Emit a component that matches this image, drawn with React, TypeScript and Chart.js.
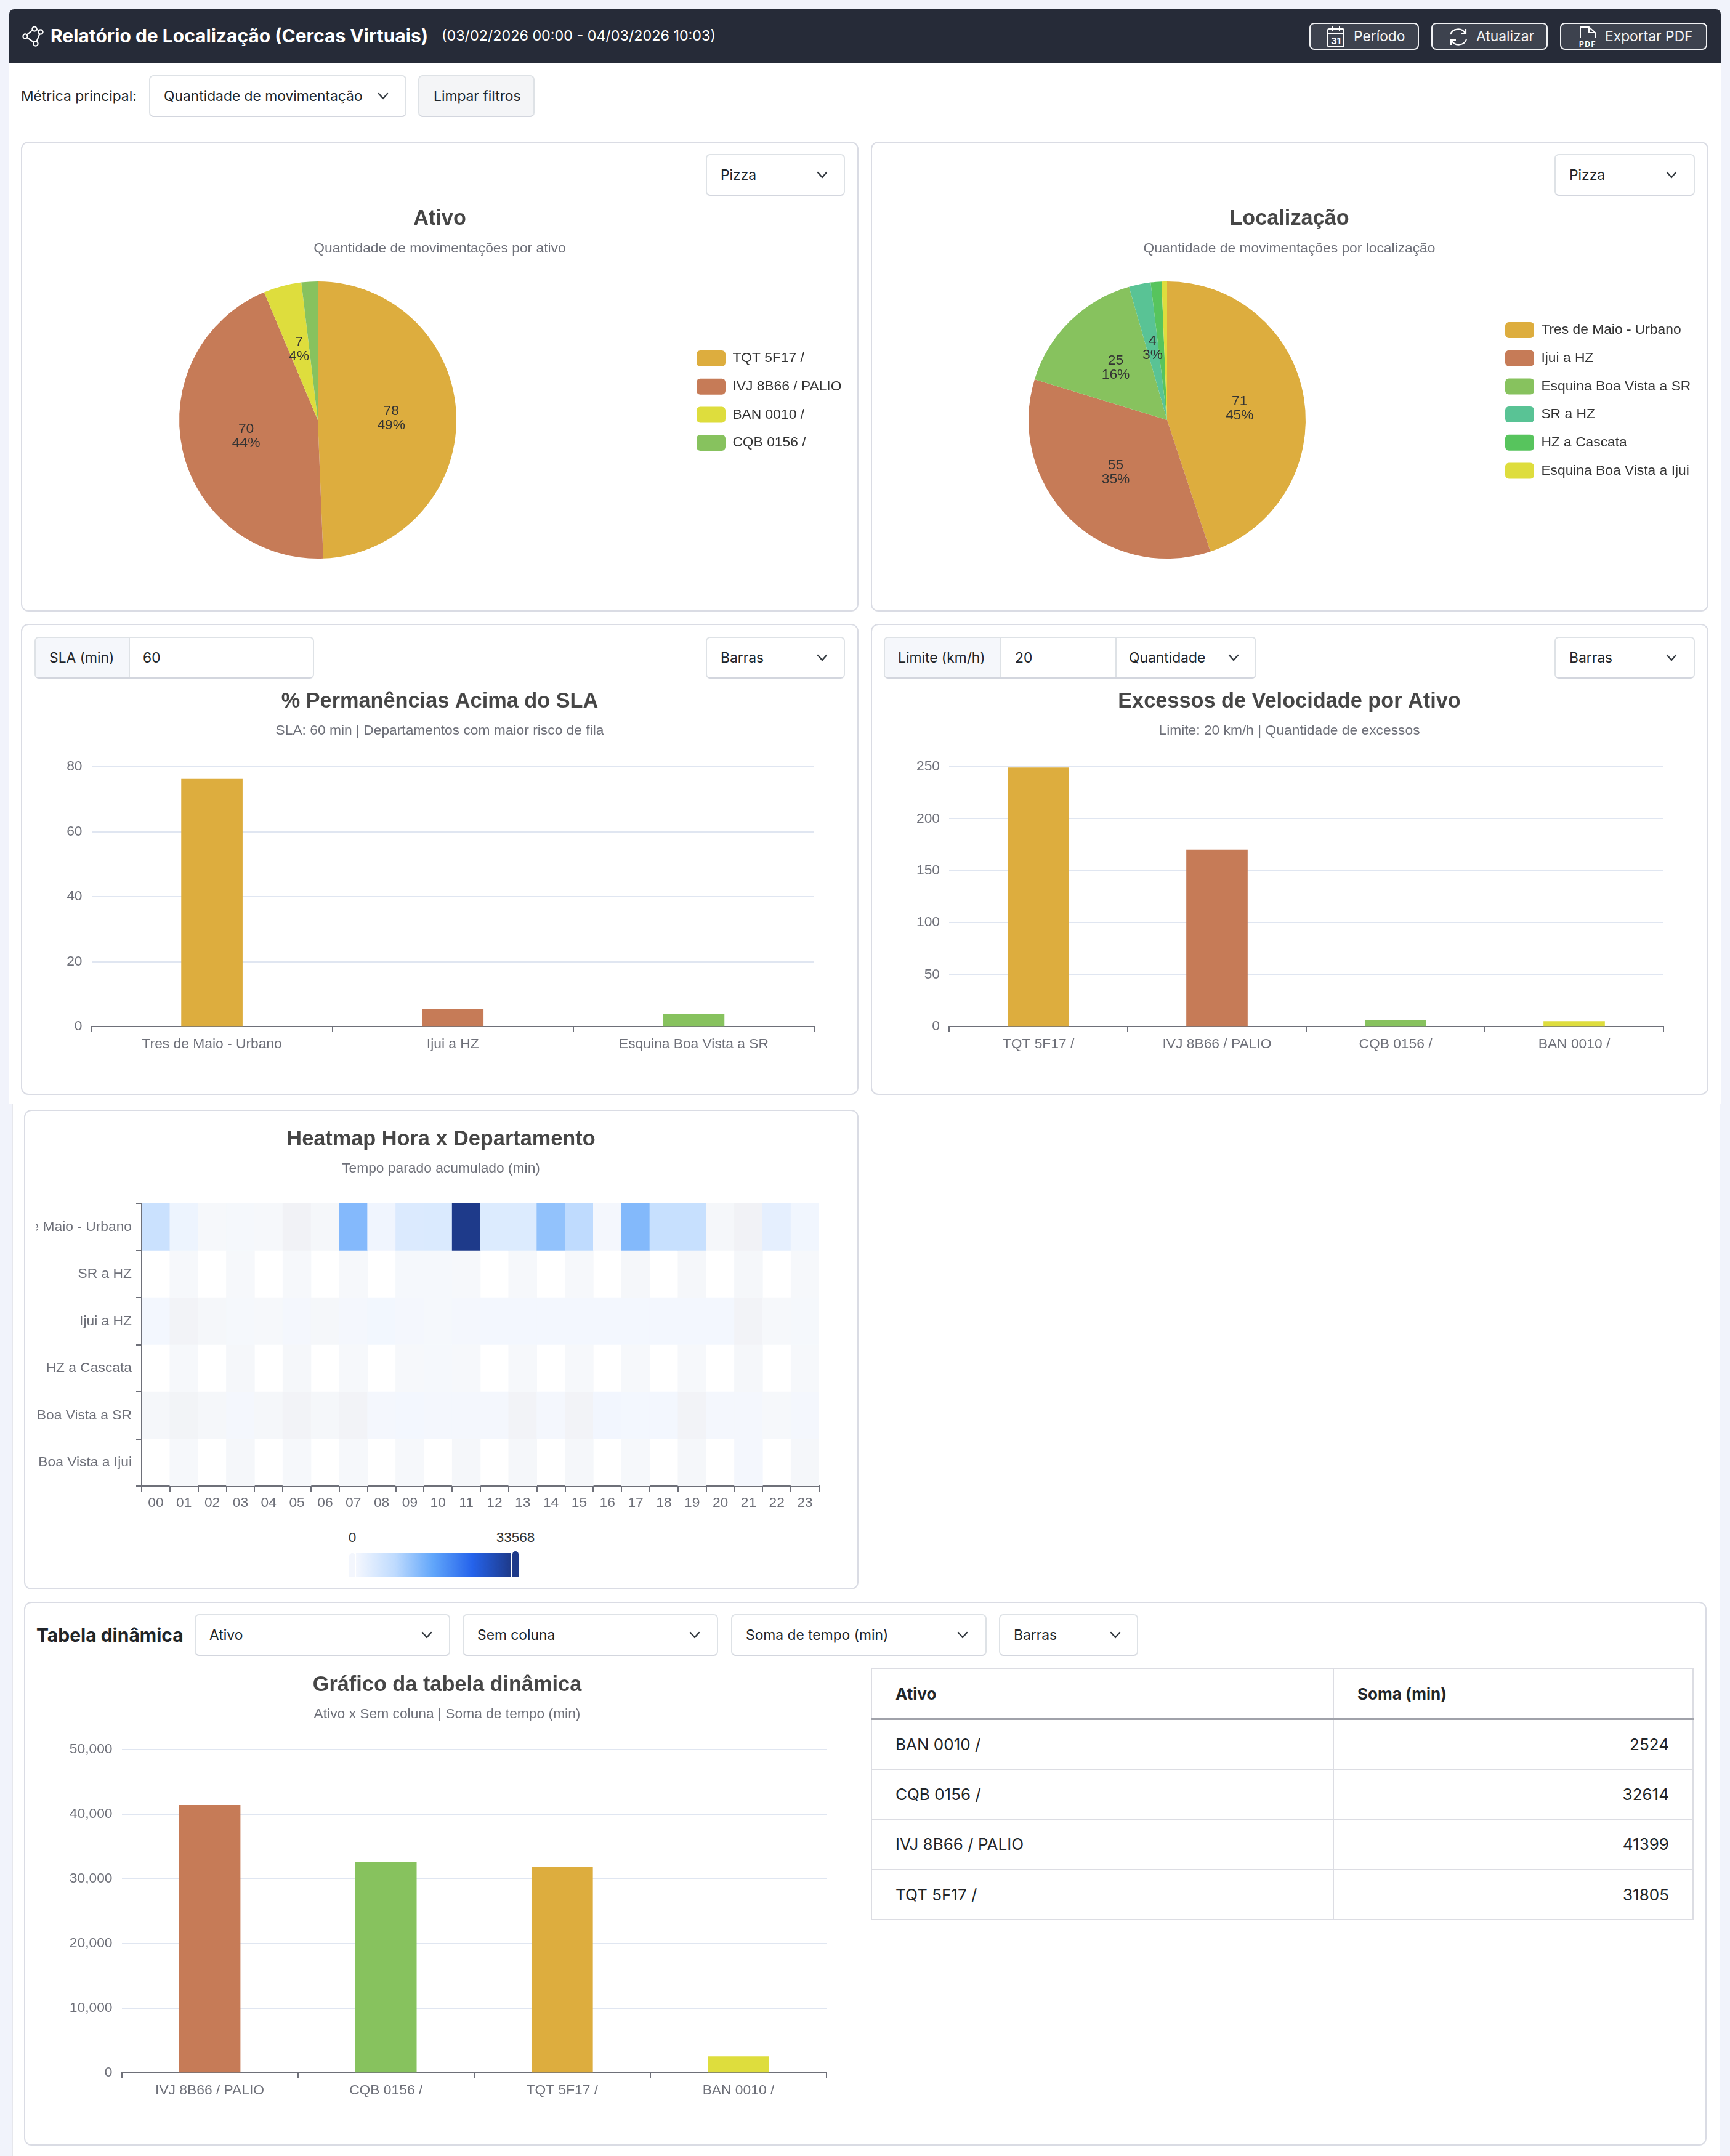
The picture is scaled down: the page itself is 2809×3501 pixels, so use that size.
import React, { useEffect, useRef } from 'react';
import { Chart, registerables } from 'chart.js';
import type { FC, CSSProperties, ReactNode } from 'react';

Chart.register(...registerables);

const GOLD = '#DDAD3E';
const TERRACOTTA = '#C67B57';
const GREEN = '#87C25E';
const YELLOW = '#DEDD3D';
const TEAL = '#59C395';
const LEAF = '#57C45D';

const assetLabels = ['TQT 5F17 /', 'IVJ 8B66 / PALIO', 'BAN 0010 /', 'CQB 0156 /'];
const assetMoves = [78, 70, 7, 3];
const assetColors = [GOLD, TERRACOTTA, YELLOW, GREEN];

const placeLabels = ['Tres de Maio - Urbano', 'Ijui a HZ', 'Esquina Boa Vista a SR', 'SR a HZ', 'HZ a Cascata', 'Esquina Boa Vista a Ijui'];
const placeMoves = [71, 55, 25, 4, 2, 1];
const placeColors = [GOLD, TERRACOTTA, GREEN, TEAL, LEAF, YELLOW];

const slaLabels = ['Tres de Maio - Urbano', 'Ijui a HZ', 'Esquina Boa Vista a SR'];
const slaValues = [76.2, 5.4, 3.9];
const slaColors = [GOLD, TERRACOTTA, GREEN];

const speedLabels = ['TQT 5F17 /', 'IVJ 8B66 / PALIO', 'CQB 0156 /', 'BAN 0010 /'];
const speedValues = [249, 170, 6, 5];
const speedColors = [GOLD, TERRACOTTA, GREEN, YELLOW];

const pivotLabels = ['IVJ 8B66 / PALIO', 'CQB 0156 /', 'TQT 5F17 /', 'BAN 0010 /'];
const pivotValues = [41399, 32614, 31805, 2524];
const pivotColors = [TERRACOTTA, GREEN, GOLD, YELLOW];

const pivotRows = [
  ['BAN 0010 /', '2524'],
  ['CQB 0156 /', '32614'],
  ['IVJ 8B66 / PALIO', '41399'],
  ['TQT 5F17 /', '31805'],
];

const hours = ['00', '01', '02', '03', '04', '05', '06', '07', '08', '09', '10', '11', '12', '13', '14', '15', '16', '17', '18', '19', '20', '21', '22', '23'];
const departments = ['Tres de Maio - Urbano', 'SR a HZ', 'Ijui a HZ', 'HZ a Cascata', 'Esquina Boa Vista a SR', 'Esquina Boa Vista a Ijui'];
const heatMax = 33568;

// minutes per hour, null = no cell drawn
const heatTresDeMaio = [6800, 1900, 500, 700, 500, 100, 400, 13600, 1500, 4400, 4500, 33568, 4300, 4300, 12350, 8400, 900, 13700, 7200, 7200, 400, 100, 3000, 1300];
const heatSrHz = [null, 500, null, 500, null, 500, null, 500, null, 700, 700, 500, null, 500, null, 500, null, 450, null, 450, null, 400, null, 500];
const heatIjuiHz = [1000, 150, 400, 700, 500, 900, 400, 900, 1100, 900, 600, 900, 950, 950, 950, 950, 950, 950, 950, 950, 950, 150, 500, 700];
const heatHzCascata = [null, 500, null, 450, null, 450, null, 500, null, 500, 700, 500, null, 500, null, 500, null, 500, null, 500, null, 400, null, 500];
const heatBoaVistaSr = [450, 200, 450, 800, 450, 150, 400, 130, 900, 1000, 900, 900, 900, 150, 900, 150, 1200, 950, 950, 150, 900, 850, 500, 800];
const heatBoaVistaIjui = [null, 500, null, 450, null, 500, null, 500, null, 500, null, 450, null, 450, null, 450, null, 500, null, 450, null, 800, null, 450];
const heatRows = [heatTresDeMaio, heatSrHz, heatIjuiHz, heatHzCascata, heatBoaVistaSr, heatBoaVistaIjui];

const heatStops: [number, number[]][] = [
  [0, [240, 241, 245]],
  [0.015, [246, 248, 251]],
  [0.03, [243, 247, 254]],
  [0.25, [191, 219, 254]],
  [0.5, [96, 165, 250]],
  [0.75, [37, 99, 235]],
  [1, [30, 58, 138]],
];

const heatColor = (value: number | null) => {
  if (value === null) return 'rgba(0,0,0,0)';
  const t = value / heatMax;
  for (let i = 1; i < heatStops.length; i += 1) {
    const [t0, c0] = heatStops[i - 1];
    const [t1, c1] = heatStops[i];
    if (t <= t1) {
      const k = (t - t0) / (t1 - t0);
      return `rgb(${c0.map((c, j) => Math.round(c + (c1[j] - c) * k)).join(',')})`;
    }
  }
  return 'rgb(30,58,138)';
};

const CHART_FONT = '"Liberation Sans", Arial, sans-serif';
const UI_FONT = 'Inter, "Noto Sans", sans-serif';
const AXIS_COLOR = '#6E7079';
const GRID_COLOR = '#E0E6F1';
const TITLE_SIZE = 34.3;
const TEXT_SIZE = 22.8;

Chart.defaults.font.family = CHART_FONT;
Chart.defaults.font.size = TEXT_SIZE;

// title and subtitle are placed by their centre line, relative to the canvas top
const headings = (title: string, subtitle: string, canvasTop: number, titleY: number, subtitleY: number, plotTop: number) => {
  const titleH = TITLE_SIZE * 1.2;
  const subH = TEXT_SIZE * 1.2;
  return {
    title: {
      display: true,
      text: title,
      color: '#464646',
      font: { size: TITLE_SIZE, weight: 'bold' as const },
      padding: { top: titleY - titleH / 2 - canvasTop, bottom: 0 },
    },
    subtitle: {
      display: true,
      text: subtitle,
      color: AXIS_COLOR,
      font: { size: TEXT_SIZE },
      padding: { top: subtitleY - subH / 2 - (titleY + titleH / 2), bottom: plotTop - (subtitleY + subH / 2) },
    },
    tooltip: { enabled: false },
  };
};

// keeps the pie and its legend where the card wants them, and writes the slice labels
const piePlugin = {
  id: 'pieFrame',
  afterLayout(chart: any, _args: any, opts: any) {
    const r = opts.radius;
    Object.assign(chart.chartArea, {
      left: opts.cx - r, right: opts.cx + r, top: opts.cy - r, bottom: opts.cy + r, width: r * 2, height: r * 2,
    });
    const pad = chart.options.plugins.legend.labels.padding;
    const { legend } = chart;
    legend.left = opts.legendX - pad;
    legend.right = chart.width;
    legend.top = opts.legendY - pad;
    legend.bottom = chart.height;
  },
  afterDatasetsDraw(chart: any, _args: any, opts: any) {
    const { ctx } = chart;
    const values: number[] = chart.data.datasets[0].data;
    const total = values.reduce((a, b) => a + b, 0);
    ctx.save();
    ctx.font = `${TEXT_SIZE}px ${CHART_FONT}`;
    ctx.fillStyle = '#333333';
    ctx.textAlign = 'center';
    ctx.textBaseline = 'middle';
    chart.getDatasetMeta(0).data.forEach((arc: any, i: number) => {
      if (values[i] < opts.minLabel) return;
      const mid = (arc.startAngle + arc.endAngle) / 2;
      const d = arc.outerRadius * 0.53;
      const x = arc.x + Math.cos(mid) * d;
      const y = arc.y + Math.sin(mid) * d;
      ctx.fillText(String(values[i]), x, y - 11.5);
      ctx.fillText(`${Math.round((values[i] / total) * 100)}%`, x, y + 11.5);
    });
    ctx.restore();
  },
};

const pieConfig = (title: string, subtitle: string, labels: string[], values: number[], colors: string[], frame: any): any => ({
  type: 'pie',
  data: { labels, datasets: [{ data: values, backgroundColor: colors, borderWidth: 0 }] },
  plugins: [piePlugin],
  options: {
    responsive: false,
    animation: false,
    plugins: {
      ...headings(title, subtitle, 320, 356, 403.5, 440),
      pieFrame: { ...frame, radius: 225, minLabel: 4 },
      legend: {
        position: 'right',
        align: 'start',
        labels: {
          boxWidth: 47,
          boxHeight: 26,
          padding: 19.7,
          color: '#333333',
          useBorderRadius: true,
          borderRadius: 6,
          font: { size: TEXT_SIZE },
        },
      },
    },
  },
});

interface BarSpec {
  title: string;
  subtitle: string;
  labels: string[];
  values: number[];
  colors: string[];
  max: number;
  step: number;
  canvas: { x: number; y: number; w: number };
  plot: { left: number; right: number; top: number; bottom: number };
  titleY: number;
  subtitleY: number;
  barWidth: number;
}

const barConfig = (s: BarSpec): any => {
  const side = s.canvas.x + s.canvas.w - s.plot.right;
  return {
    type: 'bar',
    data: {
      labels: s.labels,
      datasets: [{ data: s.values, backgroundColor: s.colors, barThickness: s.barWidth }],
    },
    options: {
      responsive: false,
      animation: false,
      locale: 'en-US',
      layout: { padding: { left: side, right: side, top: 0, bottom: 0 } },
      plugins: {
        ...headings(s.title, s.subtitle, s.canvas.y, s.titleY, s.subtitleY, s.plot.top),
        legend: { display: false },
      },
      scales: {
        x: {
          afterFit(scale: any) { scale.height = 50; },
          grid: { offset: true, drawOnChartArea: false, color: AXIS_COLOR, lineWidth: 2, tickLength: 9 },
          border: { color: AXIS_COLOR, width: 2 },
          ticks: { color: AXIS_COLOR, padding: 6, maxRotation: 0, font: { size: TEXT_SIZE } },
        },
        y: {
          min: 0,
          max: s.max,
          afterFit(scale: any) { scale.width = s.plot.left - s.canvas.x - side; },
          grid: { color: GRID_COLOR, lineWidth: 2, drawTicks: false },
          border: { display: false },
          ticks: { stepSize: s.step, color: AXIS_COLOR, padding: 15, font: { size: TEXT_SIZE } },
        },
      },
    },
  };
};

const heatConfig = (): any => ({
  type: 'bar',
  data: {
    labels: hours,
    datasets: heatRows.map((row, i) => ({
      label: departments[i],
      // every cell is one row tall, its colour carries the minutes
      data: row.map(() => 1),
      backgroundColor: row.map(heatColor),
      yAxisID: 'cells',
      barPercentage: 1,
      categoryPercentage: 1,
    })),
  },
  options: {
    responsive: false,
    animation: false,
    layout: { padding: { left: 43, right: 43, top: 0, bottom: 0 } },
    plugins: {
      ...headings('Heatmap Hora x Departamento', 'Tempo parado acumulado (min)', 1820, 1850.5, 1897.5, 1954),
      legend: { display: false },
    },
    scales: {
      x: {
        stacked: true,
        afterFit(scale: any) { scale.height = 50; },
        grid: { offset: true, drawOnChartArea: false, color: AXIS_COLOR, lineWidth: 2, tickLength: 9 },
        border: { color: AXIS_COLOR, width: 2 },
        ticks: { color: AXIS_COLOR, padding: 5, autoSkip: false, maxRotation: 0, font: { size: TEXT_SIZE } },
      },
      cells: { stacked: true, display: false, min: 0, max: departments.length, reverse: true },
      y: {
        type: 'category',
        labels: departments,
        offset: true,
        position: 'left',
        afterFit(scale: any) {
          scale.width = 128;
          // long names run off the canvas edge here, the scale's own clip would cut them earlier
          scale._computeLabelArea = () => ({
            top: 0, left: 0, bottom: scale.chart.height, right: scale.right,
          });
        },
        grid: { offset: true, drawOnChartArea: false, color: AXIS_COLOR, lineWidth: 2, tickLength: 9 },
        border: { color: AXIS_COLOR, width: 2 },
        ticks: { color: AXIS_COLOR, padding: 7, autoSkip: false, font: { size: TEXT_SIZE } },
      },
    },
  },
});

const ChartCanvas: FC<{ x: number; y: number; w: number; h: number; make: () => any }> = ({
  x, y, w, h, make,
}) => {
  const canvasRef = useRef<HTMLCanvasElement>(null);

  useEffect(() => {
    const chart = new Chart(canvasRef.current as HTMLCanvasElement, make());
    return () => {
      chart.destroy();
    };
  }, []);

  return (
    <canvas
      ref={canvasRef}
      width={w}
      height={h}
      style={{
        position: 'absolute', left: x, top: y, width: w, height: h,
      }}
    />
  );
};

const Box: FC<{ x: number; y: number; w: number; h: number; style?: CSSProperties; children?: ReactNode }> = ({
  x, y, w, h, style, children,
}) => (
  <div
    style={{
      position: 'absolute', left: x, top: y, width: w, height: h, boxSizing: 'border-box', ...style,
    }}
  >
    {children}
  </div>
);

const Label: FC<{ x: number; cy: number; size?: number; weight?: number; color?: string; children: ReactNode }> = ({
  x, cy, size = TEXT_SIZE, weight = 400, color = '#212529', children,
}) => (
  <div
    style={{
      position: 'absolute', left: x, top: cy - 20, height: 40, lineHeight: '40px', fontSize: size, fontWeight: weight, color, whiteSpace: 'nowrap',
    }}
  >
    {children}
  </div>
);

const Chevron: FC<{ x: number; cy: number }> = ({ x, cy }) => (
  <svg style={{ position: 'absolute', left: x - 10, top: cy - 7 }} width="20" height="14" viewBox="0 0 20 14">
    <path d="M3 3 L10 11 L17 3" fill="none" stroke="#343a40" strokeWidth="2.4" strokeLinecap="round" strokeLinejoin="round" />
  </svg>
);

const FIELD_BORDER = '2px solid #DEE2E6';

const Select: FC<{ x: number; y: number; w: number; h?: number; text: string; chevronX: number }> = ({
  x, y, w, h = 68, text, chevronX,
}) => (
  <Box x={x} y={y} w={w} h={h} style={{ background: '#fff', border: FIELD_BORDER, borderBottomColor: '#D3D6DE', borderRadius: 7 }}>
    <Label x={22} cy={h / 2 - 2}>{text}</Label>
    <Chevron x={chevronX - x - 2} cy={h / 2 - 2} />
  </Box>
);

const Card: FC<{ x: number; y: number; w: number; h: number }> = ({
  x, y, w, h,
}) => (
  <Box x={x} y={y} w={w} h={h} style={{ background: '#fff', border: '2px solid #DADCE4', borderRadius: 12 }} />
);

const HeaderButton: FC<{ x: number; w: number; textX: number; text: string; children: ReactNode }> = ({
  x, w, textX, text, children,
}) => (
  <Box x={x} y={37} w={w} h={44} style={{ background: '#3D424E', border: '2px solid #F1F2F4', borderRadius: 8 }}>
    {children}
    <Label x={textX - x - 2} cy={20} color="#F4F5F7">{text}</Label>
  </Box>
);

const App: FC = () => (
  <div
    style={{
      position: 'absolute', left: 0, top: 0, width: 2809, height: 3501, overflow: 'hidden', background: '#F1F3FB', fontFamily: UI_FONT,
    }}
  >
    <Box x={15} y={15} w={2779} h={1777} style={{ background: '#fff', borderRadius: '8px 8px 0 0' }} />
    <Box x={19} y={1792} w={2773} h={1709} style={{ background: '#fff', borderLeft: '2px solid #E6E7EC' }} />

    <Box x={15} y={15} w={2779} h={88} style={{ background: '#262B38', borderRadius: '8px 8px 0 0' }} />
    <svg style={{ position: 'absolute', left: 34, top: 42 }} width="38" height="34" viewBox="0 0 38 34">
      <path d="M22 4 L32 9 L24 29 L7 17 Z" fill="none" stroke="#fff" strokeWidth="2.2" />
      <circle cx="22" cy="5" r="3.6" fill="#262B38" stroke="#fff" strokeWidth="2.2" />
      <circle cx="32" cy="10" r="3.6" fill="#262B38" stroke="#fff" strokeWidth="2.2" />
      <circle cx="24" cy="29" r="3.6" fill="#262B38" stroke="#fff" strokeWidth="2.2" />
      <circle cx="7" cy="17" r="3.6" fill="#262B38" stroke="#fff" strokeWidth="2.2" />
    </svg>
    <Label x={82} cy={58} size={30} weight={700} color="#fff">Relatório de Localização (Cercas Virtuais)</Label>
    <Label x={717} cy={58} size={23.3} color="#fff">(03/02/2026 00:00 - 04/03/2026 10:03)</Label>

    <HeaderButton x={2126} w={178} textX={2198} text="Período">
      <svg style={{ position: 'absolute', left: 26, top: 3 }} width="30" height="36" viewBox="0 0 30 36">
        <rect x="2" y="5" width="26" height="29" rx="2" fill="none" stroke="#fff" strokeWidth="2" />
        <path d="M2 12 H28 M9 1 V8 M21 1 V8" stroke="#fff" strokeWidth="2" />
        <text x="15" y="30" fontSize="15" fontWeight="700" fill="#fff" textAnchor="middle">31</text>
      </svg>
    </HeaderButton>
    <HeaderButton x={2324} w={189} textX={2397} text="Atualizar">
      <svg style={{ position: 'absolute', left: 26, top: 4 }} width="32" height="34" viewBox="0 0 32 34">
        <path d="M3 13 A13 12 0 0 1 27 11 M29 21 A13 12 0 0 1 5 23" fill="none" stroke="#fff" strokeWidth="2.2" />
        <path d="M28 4 V12 H20 M4 30 V22 H12" fill="none" stroke="#fff" strokeWidth="2.2" />
      </svg>
    </HeaderButton>
    <HeaderButton x={2533} w={239} textX={2606} text="Exportar PDF">
      <svg style={{ position: 'absolute', left: 26, top: 3 }} width="34" height="36" viewBox="0 0 34 36">
        <path d="M5 19 V2 H19 L29 11 V19 M19 2 V11 H29" fill="none" stroke="#fff" strokeWidth="2" />
        <text x="17" y="34" fontSize="12" fontWeight="700" letterSpacing="1.5" fill="#fff" textAnchor="middle">PDF</text>
      </svg>
    </HeaderButton>

    <Label x={34} cy={156}>Métrica principal:</Label>
    <Select x={242} y={122} w={418} text="Quantidade de movimentação" chevronX={622} />
    <Box x={679} y={122} w={189} h={68} style={{ background: '#F4F5F7', border: FIELD_BORDER, borderBottomColor: '#D3D6DE', borderRadius: 7 }}>
      <Label x={23} cy={32}>Limpar filtros</Label>
    </Box>

    <Card x={34} y={230} w={1360} h={763} />
    <Card x={1414} y={230} w={1360} h={763} />
    <Card x={34} y={1013} w={1360} h={765} />
    <Card x={1414} y={1013} w={1360} h={765} />
    <Card x={39} y={1802} w={1355} h={779} />
    <Card x={39} y={2601} w={2732} h={883} />

    <Select x={1146} y={250} w={226} text="Pizza" chevronX={1335} />
    <Select x={2524} y={250} w={228} text="Pizza" chevronX={2714} />
    <ChartCanvas x={36} y={320} w={1356} h={670} make={() => pieConfig('Ativo', 'Quantidade de movimentações por ativo', assetLabels, assetMoves, assetColors, { cx: 480, cy: 362, legendX: 1095, legendY: 249 })} />
    <ChartCanvas x={1416} y={320} w={1355} h={670} make={() => pieConfig('Localização', 'Quantidade de movimentações por localização', placeLabels, placeMoves, placeColors, { cx: 479, cy: 362, legendX: 1028, legendY: 203 })} />

    <Box x={56} y={1034} w={454} h={68} style={{ border: FIELD_BORDER, borderBottomColor: '#D3D6DE', borderRadius: 7, overflow: 'hidden' }}>
      <Box x={0} y={0} w={153} h={64} style={{ background: '#F5F7FB', borderRight: FIELD_BORDER }}>
        <Label x={22} cy={32}>SLA (min)</Label>
      </Box>
      <Label x={174} cy={32}>60</Label>
    </Box>
    <Select x={1146} y={1034} w={226} text="Barras" chevronX={1335} />
    <ChartCanvas
      x={36}
      y={1110}
      w={1356}
      h={607}
      make={() => barConfig({
        title: '% Permanências Acima do SLA',
        subtitle: 'SLA: 60 min | Departamentos com maior risco de fila',
        labels: slaLabels,
        values: slaValues,
        colors: slaColors,
        max: 80,
        step: 20,
        canvas: { x: 36, y: 1110, w: 1356 },
        plot: { left: 148.5, right: 1322, top: 1245, bottom: 1667 },
        titleY: 1140,
        subtitleY: 1186.5,
        barWidth: 99,
      })}
    />

    <Box x={1435} y={1034} w={605} h={68} style={{ border: FIELD_BORDER, borderBottomColor: '#D3D6DE', borderRadius: 7, overflow: 'hidden' }}>
      <Box x={0} y={0} w={188} h={64} style={{ background: '#F5F7FB', borderRight: FIELD_BORDER }}>
        <Label x={21} cy={32}>Limite (km/h)</Label>
      </Box>
      <Label x={211} cy={32}>20</Label>
      <Box x={374} y={0} w={2} h={64} style={{ background: '#DEE2E6' }} />
      <Label x={396} cy={32}>Quantidade</Label>
      <Chevron x={566} cy={32} />
    </Box>
    <Select x={2524} y={1034} w={228} text="Barras" chevronX={2714} />
    <ChartCanvas
      x={1416}
      y={1110}
      w={1355}
      h={607}
      make={() => barConfig({
        title: 'Excessos de Velocidade por Ativo',
        subtitle: 'Limite: 20 km/h | Quantidade de excessos',
        labels: speedLabels,
        values: speedValues,
        colors: speedColors,
        max: 250,
        step: 50,
        canvas: { x: 1416, y: 1110, w: 1355 },
        plot: { left: 1541, right: 2701, top: 1245, bottom: 1667 },
        titleY: 1140,
        subtitleY: 1186.5,
        barWidth: 99,
      })}
    />

    <ChartCanvas x={59} y={1820} w={1314} h={643} make={heatConfig} />
    <Box x={567} y={2522} w={10} h={38} style={{ background: '#F3F6FD', borderRadius: '5px 5px 0 0' }} />
    <Box
      x={578}
      y={2522}
      w={252}
      h={38}
      style={{ background: 'linear-gradient(to right, #F4F7FE 0%, #BFDBFE 25%, #60A5FA 50%, #2563EB 75%, #1E3A8A 100%)' }}
    />
    <Box x={832} y={2519} w={10} h={41} style={{ background: '#1E3A8A', borderRadius: '5px 5px 0 0' }} />
    <div style={{ position: 'absolute', left: 552, width: 40, top: 2484, textAlign: 'center', fontFamily: CHART_FONT, fontSize: 22.5, color: '#333' }}>0</div>
    <div style={{ position: 'absolute', left: 787, width: 100, top: 2484, textAlign: 'center', fontFamily: CHART_FONT, fontSize: 22.5, color: '#333' }}>33568</div>

    <Label x={59} cy={2655} size={30} weight={700}>Tabela dinâmica</Label>
    <Select x={316} y={2621} w={415} text="Ativo" chevronX={693} />
    <Select x={751} y={2621} w={415} text="Sem coluna" chevronX={1128} />
    <Select x={1187} y={2621} w={415} text="Soma de tempo (min)" chevronX={1563} />
    <Select x={1622} y={2621} w={226} text="Barras" chevronX={1811} />
    <ChartCanvas
      x={41}
      y={2700}
      w={1370}
      h={716}
      make={() => barConfig({
        title: 'Gráfico da tabela dinâmica',
        subtitle: 'Ativo x Sem coluna | Soma de tempo (min)',
        labels: pivotLabels,
        values: pivotValues,
        colors: pivotColors,
        max: 50000,
        step: 10000,
        canvas: { x: 41, y: 2700, w: 1370 },
        plot: { left: 197.5, right: 1342, top: 2841, bottom: 3366 },
        titleY: 2736.5,
        subtitleY: 2783.5,
        barWidth: 99,
      })}
    />

    <table
      style={{
        position: 'absolute', left: 1414, top: 2709, width: 1336, borderCollapse: 'collapse', tableLayout: 'fixed', fontSize: 26, color: '#212529',
      }}
    >
      <colgroup>
        <col style={{ width: 750 }} />
        <col />
      </colgroup>
      <thead>
        <tr style={{ height: 81 }}>
          <th style={{ textAlign: 'left', padding: '0 38px', border: '2px solid #DCDDE3', borderBottom: '3px solid #A0A2AA', fontWeight: 700 }}>Ativo</th>
          <th style={{ textAlign: 'left', padding: '0 38px', border: '2px solid #DCDDE3', borderBottom: '3px solid #A0A2AA', fontWeight: 700 }}>Soma (min)</th>
        </tr>
      </thead>
      <tbody>
        {pivotRows.map(([name, total]) => (
          <tr key={name} style={{ height: 81.5 }}>
            <td style={{ padding: '0 38px', border: '2px solid #DCDDE3' }}>{name}</td>
            <td style={{ padding: '0 38px', border: '2px solid #DCDDE3', textAlign: 'right' }}>{total}</td>
          </tr>
        ))}
      </tbody>
    </table>
  </div>
);

export default App;
